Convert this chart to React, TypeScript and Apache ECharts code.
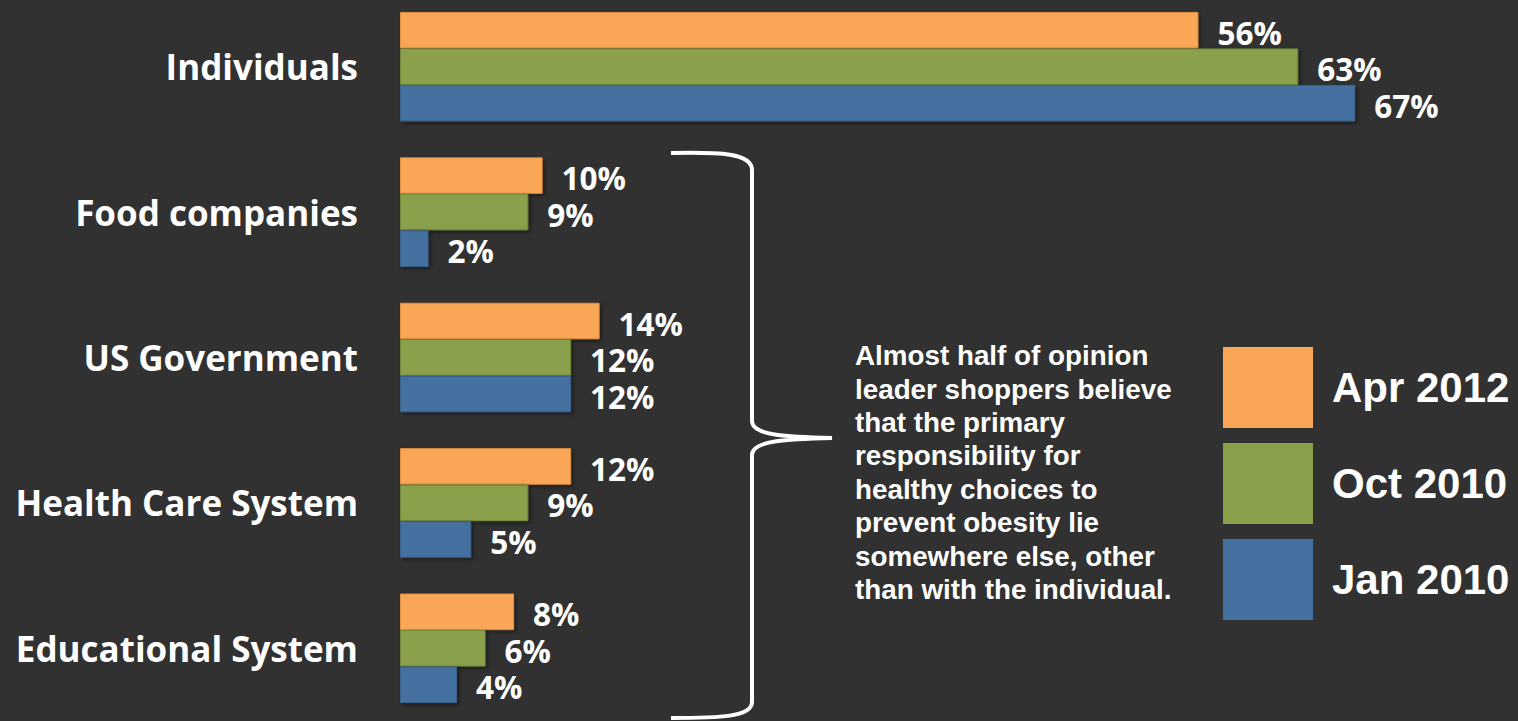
import React, { useEffect, useRef } from "react";
import * as echarts from "echarts";

const categories = ["Individuals", "Food companies", "US Government", "Health Care System", "Educational System"];
const seriesNames = ["Apr 2012", "Oct 2010", "Jan 2010"];
const apr2012 = [56, 10, 14, 12, 8];
const oct2010 = [63, 9, 12, 9, 6];
const jan2010 = [67, 2, 12, 5, 4];
const seriesValues = [apr2012, oct2010, jan2010];
const seriesColors = ["#F9A656", "#8AA04B", "#4571A1"];
const seriesBorders = ["#E3913F", "#768A3C", "#3A628C"];
const noteLines = [
  "Almost half of opinion",
  "leader shoppers believe",
  "that the primary",
  "responsibility for",
  "healthy choices to",
  "prevent obesity lie",
  "somewhere else, other",
  "than with the individual.",
];

const SHIFT = 6;

const bracePath =
  "M671,153 C720,152 752,153 752,170 L752,421 C752,436 790,437 832,438 C790,439 752,440 752,455 L752,702 C752,717 720,718 671,718";

let registered = false;
function ensureShape() {
  if (registered) return;
  echarts.graphic.registerShape("brace", echarts.graphic.extendPath(bracePath, {}) as any);
  registered = true;
}

export default function App() {
  const ref = useRef<HTMLDivElement>(null);
  useEffect(() => {
    if (!ref.current) return;
    ensureShape();
    const chart = echarts.init(ref.current, null, { renderer: "svg" });
    const labelFont = "'Open Sans', Lato, sans-serif";
    chart.setOption({
      animation: false,
      backgroundColor: "#313131",
      grid: { left: 400, top: 0, width: 998, height: 727.5, containLabel: false },
      xAxis: { type: "value", min: 0, max: 70, show: false },
      yAxis: {
        type: "category",
        data: categories,
        inverse: true,
        axisLine: { show: false },
        axisTick: { show: false },
        splitLine: { show: false },
        axisLabel: {
          color: "#FFFFFF",
          fontFamily: labelFont,
          fontWeight: "bold",
          fontSize: 35,
          margin: 42,
          lineHeight: 40,
          padding: [10, 0, 0, 0],
        },
      },
      legend: {
        orient: "vertical",
        left: 1223,
        top: 347 + SHIFT,
        padding: 0,
        icon: "rect",
        itemWidth: 90,
        itemHeight: 81,
        itemGap: 15,
        data: seriesNames,
        selectedMode: false,
        itemStyle: { borderWidth: 0, shadowBlur: 0 },
        textStyle: {
          color: "#FFFFFF",
          fontFamily: "'Liberation Sans', Arial, sans-serif",
          fontWeight: "bold",
          fontSize: 42,
          padding: [7, 0, 0, 14],
        },
      },
      series: seriesNames.map((name, i) => ({
        name,
        type: "bar",
        data: seriesValues[i],
        barWidth: 36.5,
        barGap: "0%",
        itemStyle: {
          color: seriesColors[i],
          borderColor: seriesBorders[i],
          borderWidth: 1,
          shadowColor: "rgba(0,0,0,0.45)",
          shadowBlur: 4,
          shadowOffsetX: 2,
          shadowOffsetY: 2,
        },
        label: {
          show: true,
          position: "right",
          distance: 19,
          offset: [0, 2],
          formatter: "{c}%",
          color: "#FFFFFF",
          fontFamily: labelFont,
          fontWeight: "bold",
          fontSize: 31.5,
          lineHeight: 32,
        },
      })),
      graphic: [
        {
          type: "group",
          x: 0,
          y: SHIFT,
          silent: true,
          children: [
            {
              type: "brace",
              x: 0,
              y: 0,
              style: { fill: "none", stroke: "#FFFFFF", lineWidth: 4 },
            },
            {
              type: "text",
              x: 855,
              y: 339,
              style: {
                text: noteLines.join("\n"),
                fill: "#FFFFFF",
                fontFamily: "'Liberation Sans', Arial, sans-serif",
                fontWeight: "bold",
                fontSize: 27.8,
                lineHeight: 33.4,
              },
            },
          ],
        },
      ],
    });
    return () => chart.dispose();
  }, []);
  return (
    <div
      ref={ref}
      style={{ position: "fixed", left: 0, top: -SHIFT, width: 1518, height: 721 + SHIFT }}
    />
  );
}
